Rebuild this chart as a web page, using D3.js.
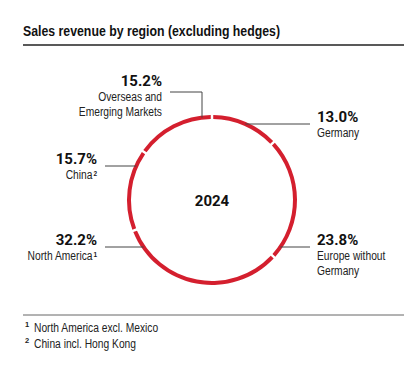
<!DOCTYPE html>
<html>
<head>
<meta charset="utf-8">
<script src="https://cdn.jsdelivr.net/npm/d3@7"></script>
<style>
    body { margin: 0; background: #fff; }
    svg { display: block; }
</style>
</head>
<body>
<svg id="chart"></svg>
<script>
const REGIONS = ["Germany", "Europe without Germany", "North America", "China", "Overseas and Emerging Markets"];
const SHARES = [13.0, 23.8, 32.2, 15.7, 15.2];
const LABEL_LINES = [["Germany"], ["Europe without", "Germany"], ["North America"], ["China"], ["Overseas and", "Emerging Markets"]];
const NOTE_MARKS = ["", "", "1", "2", ""];
const FOOTNOTES = ["North America excl. Mexico", "China incl. Hong Kong"];
const FOOTNOTE_MARKS = ["1", "2"];
const YEAR = "2024";
const TITLE = "Sales revenue by region (excluding hedges)";

const WIDTH = 420,
      HEIGHT = 370;
const CX = 212,
      CY = 200,
      RADIUS = 83;
const RED = "#d41f2e";
const TEXT_FONT = "'Liberation Sans', Arial, sans-serif";
const NUM_FONT = "Roboto, 'Liberation Sans', sans-serif";
const CONDENSE = 0.82;

// where each label sits: side, leader y, text x
const LABEL_LAYOUT = [
    { side: "right", lineY: 124, textX: 317, lineEnd: 310 },
    { side: "right", lineY: 247, textX: 317, lineEnd: 310 },
    { side: "left", lineY: 247, textX: 97, lineEnd: 105 },
    { side: "left", lineY: 166, textX: 97, lineEnd: 105 },
    { side: "top", lineY: 92, textX: 162, lineEnd: 170, lineX: 202 }
];

const svg = d3.select("#chart")
    .attr("width", WIDTH)
    .attr("height", HEIGHT);

// squeeze a text horizontally so it looks like a narrow cut
function condense(sel) {
    sel.each(function() {
        let len = this.getComputedTextLength();
        d3.select(this)
            .attr("textLength", len * CONDENSE)
            .attr("lengthAdjust", "spacingAndGlyphs");
    });
}

function drawHeader(container) {
    container.append("text")
        .attr("x", 23)
        .attr("y", 36)
        .attr("font-family", TEXT_FONT)
        .attr("font-weight", "bold")
        .attr("font-size", 15)
        .attr("fill", "#111")
        .text(TITLE)
        .call(condense);

    container.append("line")
        .attr("x1", 23)
        .attr("x2", 404)
        .attr("y1", 45)
        .attr("y2", 45)
        .attr("stroke", "#222")
        .attr("stroke-width", 1.6);
}

function drawRing(container) {
    let pie = d3.pie().sort(null).value(d => d);
    let arc = d3.arc()
        .innerRadius(RADIUS - 2)
        .outerRadius(RADIUS + 2)
        .padAngle(0.03)
        .padRadius(RADIUS);

    container.append("g")
        .attr("transform", `translate(${CX},${CY})`)
        .selectAll("path")
        .data(pie(SHARES))
        .join("path")
        .attr("d", arc)
        .attr("fill", RED);

    container.append("text")
        .attr("x", CX)
        .attr("y", CY + 6)
        .attr("text-anchor", "middle")
        .attr("font-family", NUM_FONT)
        .attr("font-weight", "bold")
        .attr("font-size", 15)
        .attr("fill", "#111")
        .text(YEAR);
}

function ringX(y, side) {
    let dy = y - CY;
    let dx = Math.sqrt(RADIUS * RADIUS - dy * dy);
    return side === "left" ? CX - dx : CX + dx;
}

function drawLabels(container) {
    let fmt = d3.format(".1f");

    SHARES.forEach((v, i) => {
        let lay = LABEL_LAYOUT[i];
        let anchor = lay.side === "right" ? "start" : "end";
        let pctY = lay.lineY - 2;

        // leader line
        if (lay.side === "top") {
            let dx = lay.lineX - CX;
            let ringY = CY - Math.sqrt(RADIUS * RADIUS - dx * dx);
            container.append("path")
                .attr("d", `M${lay.lineEnd},${lay.lineY}H${lay.lineX}V${ringY}`)
                .attr("fill", "none")
                .attr("stroke", "#444")
                .attr("stroke-width", 1);
            pctY = 86;
        } else {
            container.append("line")
                .attr("x1", ringX(lay.lineY, lay.side))
                .attr("x2", lay.lineEnd)
                .attr("y1", lay.lineY)
                .attr("y2", lay.lineY)
                .attr("stroke", "#444")
                .attr("stroke-width", 1);
        }

        container.append("text")
            .attr("x", lay.textX)
            .attr("y", pctY)
            .attr("text-anchor", anchor)
            .attr("font-family", NUM_FONT)
            .attr("font-weight", "bold")
            .attr("font-size", 15)
            .attr("fill", "#111")
            .text(fmt(v) + "%");

        LABEL_LINES[i].forEach((line, j) => {
            let hasMark = j === LABEL_LINES[i].length - 1 && NOTE_MARKS[i];
            let y = pctY + 15 + j * 15;

            container.append("text")
                .attr("x", hasMark ? lay.textX - 4.5 : lay.textX)
                .attr("y", y)
                .attr("text-anchor", anchor)
                .attr("font-family", TEXT_FONT)
                .attr("font-size", 12.5)
                .attr("fill", "#222")
                .text(line)
                .call(condense);

            // footnote mark
            if (hasMark) {
                container.append("text")
                    .attr("x", lay.textX)
                    .attr("y", y - 3)
                    .attr("text-anchor", anchor)
                    .attr("font-family", TEXT_FONT)
                    .attr("font-weight", "bold")
                    .attr("font-size", 6.5)
                    .attr("fill", "#222")
                    .text(NOTE_MARKS[i]);
            }
        });
    });
}

function drawFootnotes(container) {
    container.append("line")
        .attr("x1", 23)
        .attr("x2", 404)
        .attr("y1", 315)
        .attr("y2", 315)
        .attr("stroke", "#666")
        .attr("stroke-width", 1);

    FOOTNOTES.forEach((note, i) => {
        container.append("text")
            .attr("x", 25)
            .attr("y", 327 + i * 16)
            .attr("font-family", TEXT_FONT)
            .attr("font-weight", "bold")
            .attr("font-size", 7.5)
            .attr("fill", "#222")
            .text(FOOTNOTE_MARKS[i]);

        container.append("text")
            .attr("x", 34)
            .attr("y", 332 + i * 16)
            .attr("font-family", TEXT_FONT)
            .attr("font-size", 12.5)
            .attr("fill", "#222")
            .text(note)
            .call(condense);
    });
}

drawHeader(svg);
drawRing(svg);
drawLabels(svg);
drawFootnotes(svg);
</script>
</body>
</html>
